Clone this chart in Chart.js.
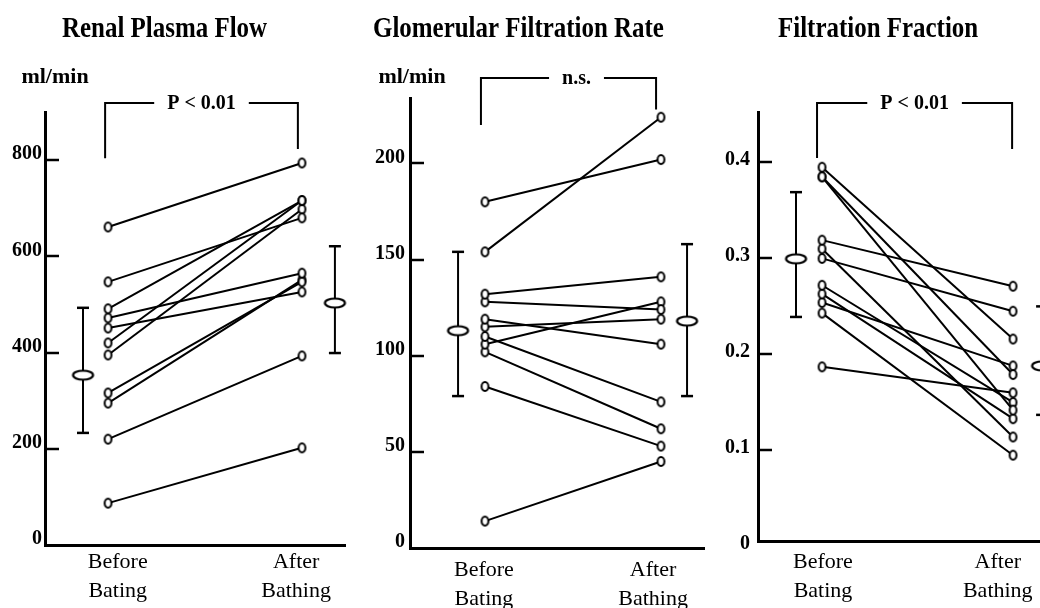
<!DOCTYPE html>
<html>
<head>
<meta charset="utf-8">
<script src="https://cdn.jsdelivr.net/npm/chart.js@4.4.0/dist/chart.umd.min.js"></script>
<style>
  html, body { margin: 0; padding: 0; background: #fff; }
  body { width: 1040px; height: 608px; position: relative; overflow: hidden; }
  canvas { position: absolute; top: 0; }
</style>
</head>
<body>
<canvas id="rpf" style="left:0px" width="352" height="608"></canvas>
<canvas id="gfr" style="left:345px" width="360" height="608"></canvas>
<canvas id="ff" style="left:695px" width="345" height="608"></canvas>
<script>
// x-axis labels (typo kept as in the original figure)
const beforeLabel = ['Before', 'Bating'];
const afterLabel = ['After', 'Bathing'];

// Renal Plasma Flow (ml/min), one entry per subject
const rpfBefore = [661, 547, 491, 472, 451, 420, 395, 316, 295, 220, 87];
const rpfAfter  = [794, 680, 716, 565, 526, 716, 698, 547, 551, 393, 202];
const rpfMean = [353, 503];
const rpfHigh = [493, 621];
const rpfLow  = [233, 399];
const rpfTicks = [0, 200, 400, 600, 800];

// Glomerular Filtration Rate (ml/min)
const gfrBefore = [180, 154, 132, 128, 119, 115, 110, 106, 102, 84, 14];
const gfrAfter  = [202, 224, 141, 124, 106, 119, 76, 128, 62, 53, 45];
const gfrMean = [113, 118];
const gfrHigh = [154, 158];
const gfrLow  = [79, 79];
const gfrTicks = [0, 50, 100, 150, 200];

// Filtration Fraction
const ffBefore = [0.395, 0.385, 0.385, 0.319, 0.310, 0.300, 0.272, 0.263, 0.254, 0.243, 0.187];
const ffAfter  = [0.216, 0.179, 0.142, 0.271, 0.114, 0.245, 0.150, 0.133, 0.188, 0.095, 0.160];
const ffMean = [0.2995, 0.188];
const ffHigh = [0.369, 0.250];
const ffLow  = [0.239, 0.137];
const ffTicks = [0, 0.1, 0.2, 0.3, 0.4];

const SERIF = '"Liberation Serif", "Times New Roman", serif';

// small open ellipse used as point marker
function ellipseImage(rx, ry, lw) {
  const c = document.createElement('canvas');
  c.width = Math.ceil(2 * rx + lw + 2);
  c.height = Math.ceil(2 * ry + lw + 2);
  const g = c.getContext('2d');
  g.beginPath();
  g.ellipse(c.width / 2, c.height / 2, rx, ry, 0, 0, Math.PI * 2);
  g.fillStyle = '#fff';
  g.fill();
  g.lineWidth = lw;
  g.strokeStyle = '#000';
  g.stroke();
  return c;
}
const dotImg = ellipseImage(3.4, 4.4, 2);
const ovalImg = ellipseImage(10, 4.5, 2.2);

// draws inward tick marks, title, unit and the significance bracket
const annotate = {
  id: 'annotate',
  afterDraw(chart, args, o) {
    const ctx = chart.ctx, xs = chart.scales.x, ys = chart.scales.y, area = chart.chartArea;
    ctx.save();
    ctx.strokeStyle = '#000';
    ctx.fillStyle = '#000';
    ctx.lineWidth = 2.5;
    ys.ticks.forEach(t => {
      if (t.value === 0) return;
      const py = Math.round(ys.getPixelForValue(t.value));
      ctx.beginPath();
      ctx.moveTo(area.left, py);
      ctx.lineTo(area.left + 14, py);
      ctx.stroke();
    });

    // title, slightly condensed like the scanned figure
    ctx.textBaseline = 'middle';
    ctx.textAlign = 'left';
    ctx.font = 'bold 29px ' + SERIF;
    ctx.save();
    ctx.translate(o.titleX, 30);
    ctx.scale(0.86, 1);
    ctx.fillText(o.title, 0, 0);
    ctx.restore();

    if (o.units) {
      ctx.textAlign = 'center';
      ctx.font = 'bold 22px ' + SERIF;
      ctx.fillText(o.units, o.unitsX, 77);
    }

    const b = o.bracket;
    const xl = xs.getPixelForValue(b.x0), xr = xs.getPixelForValue(b.x1);
    const yl = ys.getPixelForValue(b.y0), yr = ys.getPixelForValue(b.y1);
    ctx.font = 'bold 20px ' + SERIF;
    const gap = ctx.measureText(b.text).width / 2 + 13;
    const cx = (xl + xr) / 2 + (b.dx || 0);
    ctx.lineWidth = 2;
    ctx.beginPath();
    ctx.moveTo(xl, yl);
    ctx.lineTo(xl, b.top);
    ctx.lineTo(cx - gap, b.top);
    ctx.moveTo(cx + gap, b.top);
    ctx.lineTo(xr, b.top);
    ctx.lineTo(xr, yr);
    ctx.stroke();
    ctx.textAlign = 'center';
    ctx.fillText(b.text, cx, b.top + 1);
    ctx.restore();
  }
};

function buildDatasets(before, after, mean, high, low, meanX) {
  const sets = [];
  // mean markers first so they sit on top
  sets.push({
    data: meanX.map((mx, i) => ({ x: mx, y: mean[i] })),
    showLine: false, pointStyle: ovalImg, pointRadius: 10, clip: false
  });
  meanX.forEach((mx, i) => sets.push({
    data: [{ x: mx, y: low[i] }, { x: mx, y: high[i] }],
    showLine: true, borderColor: '#000', borderWidth: 2,
    pointStyle: 'line', pointRadius: 6, pointBorderWidth: 2.5, pointBorderColor: '#000',
    clip: false
  }));
  before.forEach((b, i) => sets.push({
    data: [{ x: 0, y: b }, { x: 1, y: after[i] }],
    showLine: true, borderColor: '#000', borderWidth: 2,
    pointStyle: dotImg, pointRadius: 4, clip: false
  }));
  return sets;
}

function makePanel(id, cfg) {
  new Chart(document.getElementById(id), {
    type: 'scatter',
    data: { datasets: buildDatasets(cfg.before, cfg.after, cfg.mean, cfg.high, cfg.low, cfg.meanX) },
    options: {
      responsive: false,
      animation: false,
      events: [],
      layout: { autoPadding: false, padding: { top: cfg.top, right: cfg.right || 0, bottom: 0, left: 0 } },
      plugins: {
        legend: { display: false },
        tooltip: { enabled: false },
        annotate: cfg.annot
      },
      scales: {
        x: {
          type: 'linear',
          min: cfg.xMin, max: cfg.xMax,
          grid: { display: false, drawTicks: false },
          border: { display: true, color: '#000', width: 3 },
          afterFit: s => { s.height = cfg.xHeight; },
          afterBuildTicks: s => { s.ticks = cfg.labelPos.map(v => ({ value: v })); },
          ticks: {
            callback: (v, i) => [beforeLabel, afterLabel][i],
            font: { family: SERIF, size: 22, lineHeight: 1.35 },
            color: '#000', padding: cfg.xPad, maxRotation: 0, autoSkip: false
          }
        },
        y: {
          type: 'linear',
          min: cfg.yMin, max: cfg.yMax,
          grid: { display: false, drawTicks: false },
          border: { display: true, color: '#000', width: 3 },
          afterFit: s => { s.width = cfg.yWidth; },
          afterBuildTicks: s => { s.ticks = cfg.ticks.map(v => ({ value: v })); },
          ticks: {
            callback: cfg.fmt,
            font: { family: SERIF, size: 20, weight: 'bold' },
            color: '#000', padding: cfg.yPad, labelOffset: cfg.labelOffset
          }
        }
      }
    },
    plugins: [annotate]
  });
}

makePanel('rpf', {
  before: rpfBefore, after: rpfAfter, mean: rpfMean, high: rpfHigh, low: rpfLow,
  meanX: [-0.129, 1.17], ticks: rpfTicks, fmt: v => String(v),
  top: 112, right: 7, xHeight: 63, yWidth: 45, yMin: 0, yMax: 900, xMin: -0.325, xMax: 1.222,
  labelPos: [0.05, 0.97], xPad: 2, yPad: 3, labelOffset: -6,
  annot: {
    title: 'Renal Plasma Flow', titleX: 62, units: 'ml/min', unitsX: 55,
    bracket: { x0: -0.015, x1: 0.979, y0: 804, y1: 823, top: 103, text: 'P < 0.01' }
  }
});

makePanel('gfr', {
  before: gfrBefore, after: gfrAfter, mean: gfrMean, high: gfrHigh, low: gfrLow,
  meanX: [-0.153, 1.148], ticks: gfrTicks, fmt: v => String(v),
  top: 98, xHeight: 60, yWidth: 65, yMin: 0, yMax: 234, xMin: -0.426, xMax: 1.25,
  labelPos: [-0.006, 0.955], xPad: 7, yPad: 5, labelOffset: -6,
  annot: {
    title: 'Glomerular Filtration Rate', titleX: 28, units: 'ml/min', unitsX: 67,
    bracket: { x0: -0.023, x1: 0.972, y0: 220, y1: 228, top: 78, text: 'n.s.', dx: 8 }
  }
});

makePanel('ff', {
  before: ffBefore, after: ffAfter, mean: ffMean, high: ffHigh, low: ffLow,
  meanX: [-0.136, 1.152], ticks: ffTicks, fmt: v => (v === 0 ? '0' : v.toFixed(1)),
  top: 112, xHeight: 67, yWidth: 63, yMin: 0.0056, yMax: 0.4525, xMin: -0.335, xMax: 1.141,
  labelPos: [0.005, 0.92], xPad: 6, yPad: 8, labelOffset: -3,
  annot: {
    title: 'Filtration Fraction', titleX: 83, units: null,
    bracket: { x0: -0.026, x1: 0.995, y0: 0.4046, y1: 0.414, top: 103, text: 'P < 0.01' }
  }
});
</script>
</body>
</html>
